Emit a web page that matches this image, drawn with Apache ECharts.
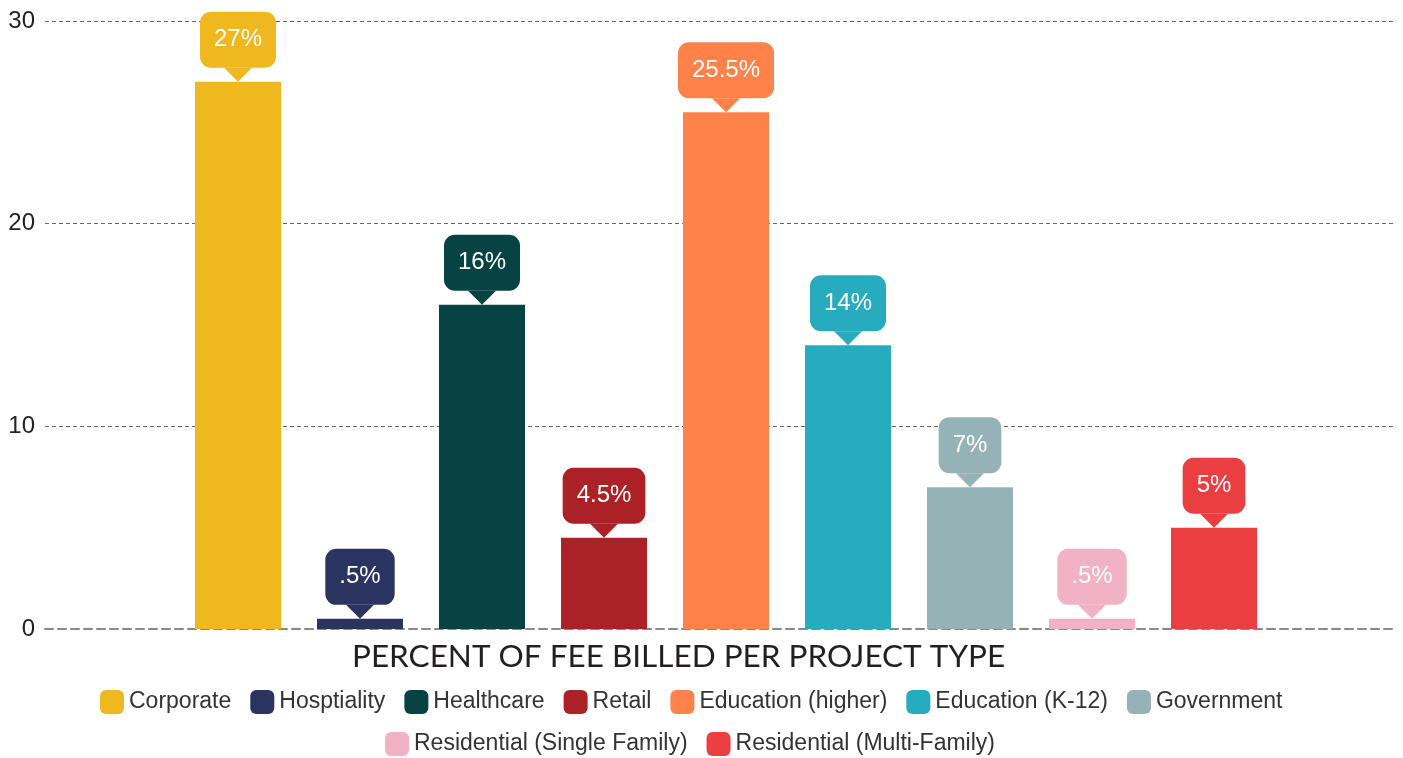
<!DOCTYPE html>
<html>
<head>
<meta charset="utf-8">
<title>Percent of fee billed per project type</title>
<script src="https://cdn.jsdelivr.net/npm/echarts@6/dist/echarts.min.js"></script>
<style>
  html, body { margin: 0; padding: 0; background: #fff; }
  #chart { width: 1403px; height: 758px; }
</style>
</head>
<body>
<div id="chart"></div>
<script>
const categories = ['Corporate', 'Hosptiality', 'Healthcare', 'Retail', 'Education (higher)',
  'Education (K-12)', 'Government', 'Residential (Single Family)', 'Residential (Multi-Family)'];
const values = [27, 0.5, 16, 4.5, 25.5, 14, 7, 0.5, 5];
const valueLabels = ['27%', '.5%', '16%', '4.5%', '25.5%', '14%', '7%', '.5%', '5%'];
const colors = ['#F0B81F', '#2B3360', '#084343', '#AC2126', '#FF824A',
  '#27ABBE', '#95B2B7', '#F2B2C6', '#EB3E40'];
const yTicks = [0, 10, 20, 30];

const FONT = 'Arial';

const chart = echarts.init(document.getElementById('chart'));

// one series per category so the legend gets one entry each
const barSeries = categories.map((name, i) => ({
  name: name,
  type: 'bar',
  xAxisIndex: 1,
  yAxisIndex: 1,
  barWidth: 86,
  barGap: '-100%',
  itemStyle: { color: colors[i] },
  data: values.map((v, j) => (j === i ? v : '-')),
  label: {
    show: true,
    position: 'top',
    distance: 14,
    formatter: () => valueLabels[i],
    color: '#fff',
    fontSize: 24,
    lineHeight: 24,
    fontFamily: FONT,
    backgroundColor: colors[i],
    borderRadius: 11,
    padding: [16, 14, 16, 14]
  }
}));

// little pointers under the callouts
const pointerSeries = {
  type: 'scatter',
  xAxisIndex: 1,
  yAxisIndex: 1,
  symbol: 'triangle',
  symbolRotate: 180,
  symbolSize: [28, 14],
  symbolOffset: [0, -7],
  silent: true,
  z: 3,
  itemStyle: { opacity: 1 },
  data: values.map((v, i) => ({ value: [i, v], itemStyle: { color: colors[i], opacity: 1 } }))
};

const legendBase = {
  padding: 0,
  icon: 'roundRect',
  itemWidth: 24,
  itemHeight: 24,
  itemGap: 19,
  textStyle: { fontSize: 23, color: '#333', fontFamily: FONT }
};

const option = {
  animation: false,
  title: {
    text: 'PERCENT OF FEE BILLED PER PROJECT TYPE',
    left: 352,
    top: 641,
    padding: 0,
    textStyle: {
      fontFamily: 'Lato, sans-serif',
      fontWeight: 'normal',
      fontSize: 31.5,
      color: '#231F20'
    }
  },
  legend: [
    Object.assign({ data: categories.slice(0, 7), left: 100, top: 690 }, legendBase),
    Object.assign({ data: categories.slice(7), left: 385, top: 732 }, legendBase)
  ],
  grid: [
    { left: 45, right: 10, top: 21, bottom: 129 },
    { left: 177, right: 128, top: 21, bottom: 129 }
  ],
  xAxis: [
    {
      gridIndex: 0,
      type: 'value',
      min: 0,
      max: 1,
      axisLabel: { show: false },
      axisTick: { show: false },
      splitLine: { show: false },
      axisLine: {
        show: true,
        lineStyle: { color: '#888', width: 2, type: [8, 5] }
      }
    },
    {
      gridIndex: 1,
      type: 'category',
      data: categories,
      show: false
    }
  ],
  yAxis: [
    {
      gridIndex: 0,
      type: 'value',
      min: yTicks[0],
      max: yTicks[yTicks.length - 1],
      interval: 10,
      axisLine: { show: false },
      axisTick: { show: false },
      axisLabel: {
        fontSize: 24,
        color: '#222',
        margin: 10,
        fontFamily: FONT
      },
      splitLine: {
        lineStyle: { color: ['transparent', '#666', '#666', '#666'], width: 1, type: [4, 3] }
      }
    },
    {
      gridIndex: 1,
      type: 'value',
      min: yTicks[0],
      max: yTicks[yTicks.length - 1],
      show: false,
      splitLine: { show: false }
    }
  ],
  series: [...barSeries, pointerSeries]
};

chart.setOption(option);
</script>
</body>
</html>
